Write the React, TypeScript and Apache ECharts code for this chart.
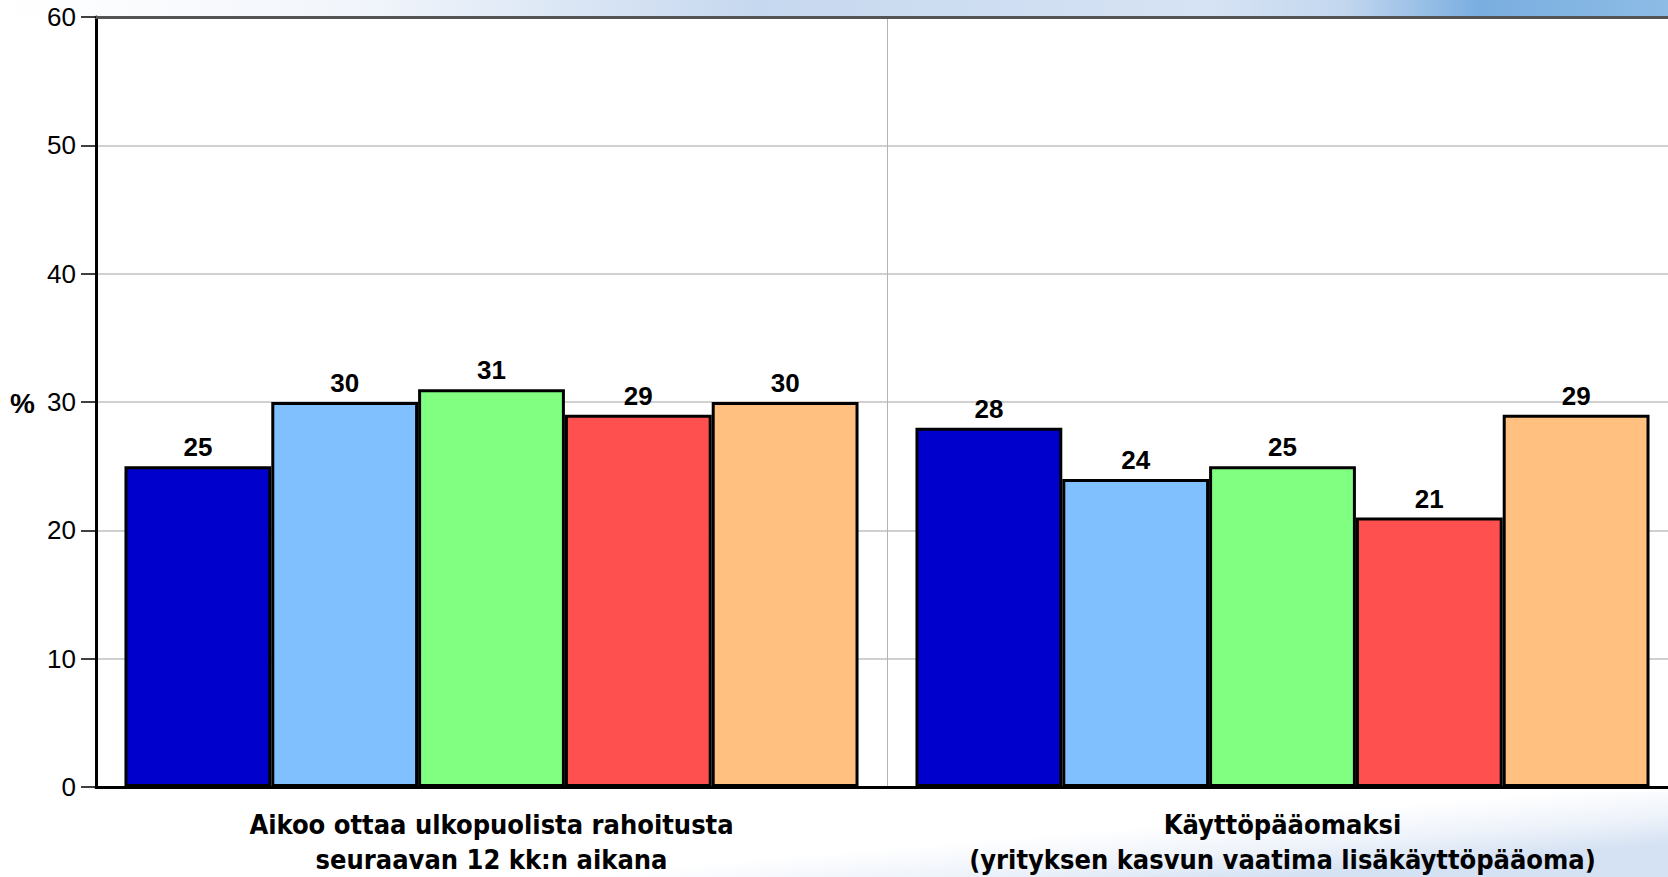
import React, { useEffect, useRef } from "react";
import * as echarts from "echarts";

const categories = [
  "Aikoo ottaa ulkopuolista rahoitusta\nseuraavan 12 kk:n aikana",
  "Käyttöpääomaksi\n(yrityksen kasvun vaatima lisäkäyttöpääoma)",
];
const seriesNames = ["Sarja 1", "Sarja 2", "Sarja 3", "Sarja 4", "Sarja 5"];
const seriesColors = ["#0000cc", "#80c0ff", "#80ff80", "#ff5050", "#ffc080"];
const values1 = [25, 28];
const values2 = [30, 24];
const values3 = [31, 25];
const values4 = [29, 21];
const values5 = [30, 29];
const seriesValues = [values1, values2, values3, values4, values5];
const yTicks = [0, 10, 20, 30, 40, 50, 60];

export default function App() {
  const ref = useRef<HTMLDivElement>(null);
  useEffect(() => {
    if (!ref.current) return;
    const chart = echarts.init(ref.current, undefined, { renderer: "svg" });
    const narrow = "'Liberation Sans Narrow', 'DejaVu Sans Condensed', 'Arial Narrow', sans-serif";
    chart.setOption({
      animation: false,
      backgroundColor: "#ffffff",
      graphic: [
        {
          type: "rect",
          z: -10,
          shape: { x: 0, y: 0, width: 1680, height: 17 },
          style: {
            fill: new echarts.graphic.LinearGradient(0, 0, 1, 0, [
              { offset: 0, color: "#ffffff" },
              { offset: 0.22, color: "#f1f5fb" },
              { offset: 0.45, color: "#c6d8ef" },
              { offset: 0.72, color: "#d6e3f4" },
              { offset: 0.8, color: "#c3d7ef" },
              { offset: 0.88, color: "#7aaee0" },
              { offset: 1, color: "#8ebde6" },
            ]),
          },
        },
        {
          type: "rect",
          z: -10,
          shape: { x: 0, y: 792, width: 1680, height: 85 },
          style: {
            fill: new echarts.graphic.LinearGradient(0, 0, 1, 0.6, [
              { offset: 0, color: "#ffffff" },
              { offset: 0.68, color: "#ffffff" },
              { offset: 0.86, color: "#edf2fa" },
              { offset: 1, color: "#d5e2f3" },
            ]),
          },
        },
        {
          type: "text",
          left: 10,
          top: 389,
          style: {
            text: "%",
            font: "bold 28px 'Liberation Sans', Arial, sans-serif",
            fill: "#000000",
          },
        },
      ],
      grid: { left: 96, top: 17, bottom: 86, right: 0, containLabel: false },
      xAxis: [
        {
          type: "category",
          data: categories,
          position: "bottom",
          axisLine: { show: true, lineStyle: { color: "#000000", width: 3 } },
          axisTick: { show: false },
          splitLine: { show: true, lineStyle: { color: "#b4b4b4", width: 1 } },
          axisLabel: {
            interval: 0,
            margin: 20,
            color: "#000000",
            fontFamily: narrow,
            fontWeight: "bold",
            fontSize: 27,
            lineHeight: 35,
          },
        },
        {
          type: "category",
          data: categories,
          position: "top",
          axisLine: { show: true, lineStyle: { color: "#555555", width: 3 } },
          axisTick: { show: false },
          axisLabel: { show: false },
          splitLine: { show: false },
        },
      ],
      yAxis: {
        type: "value",
        min: yTicks[0],
        max: yTicks[yTicks.length - 1],
        interval: 10,
        axisLine: { show: true, lineStyle: { color: "#000000", width: 3 } },
        axisTick: { show: true, length: 15, lineStyle: { color: "#000000", width: 1.5 } },
        splitLine: { show: true, lineStyle: { color: "#c0c0c0", width: 1.5 } },
        axisLabel: {
          margin: 20,
          color: "#000000",
          fontFamily: "'Liberation Sans', Arial, sans-serif",
          fontSize: 26,
        },
      },
      series: seriesValues.map((vals, i) => ({
        name: seriesNames[i],
        type: "bar",
        data: vals,
        barGap: "0%",
        barCategoryGap: "7.2%",
        itemStyle: { color: seriesColors[i], borderColor: "#000000", borderWidth: 3 },
        label: {
          show: true,
          position: "top",
          distance: 6,
          color: "#000000",
          fontFamily: "'Liberation Sans', Arial, sans-serif",
          fontWeight: "bold",
          fontSize: 26,
        },
      })),
    });
    return () => chart.dispose();
  }, []);
  return (
    <div style={{ position: "fixed", left: 0, top: 0, width: 1668, height: 877, overflow: "hidden" }}>
      <div ref={ref} style={{ width: 1678, height: 877, position: "absolute", left: 0, top: 0 }} />
    </div>
  );
}
